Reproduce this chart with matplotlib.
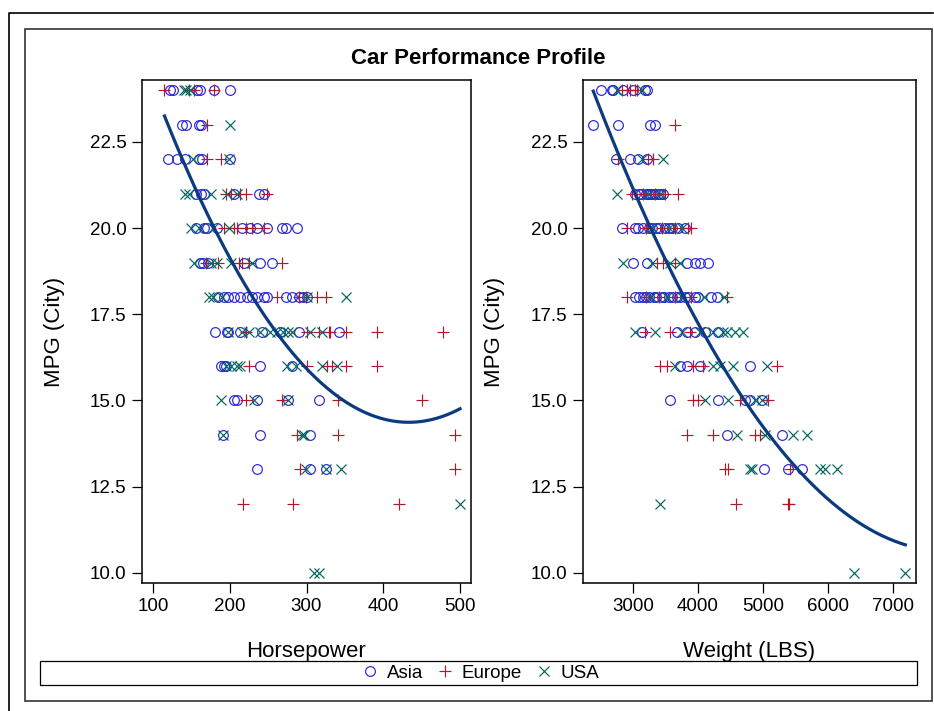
import numpy as np
import matplotlib
matplotlib.use("Agg")
import matplotlib.pyplot as plt
from matplotlib.lines import Line2D
from matplotlib.patches import Rectangle

plt.rcParams['font.family'] = ['Liberation Sans', 'DejaVu Sans']

# ---- data: city MPG rows -> horsepower / weight values per origin ----
ASIA_HP = {
    24: [122, 126, 157, 161, 180, 200],
    23: [138, 143, 160, 163],
    22: [120, 131, 142, 160, 164, 200],
    21: [156, 162, 167, 206, 238, 245],
    20: [156, 167, 171, 184, 216, 226, 236, 248, 268, 273, 287],
    19: [161, 165, 172, 218, 240, 255],
    18: [185, 193, 198, 206, 214, 223, 229, 236, 245, 249, 273, 281, 290, 296, 301],
    17: [181, 196, 198, 214, 242, 266, 290, 342],
    16: [189, 193, 195, 240, 281],
    15: [206, 210, 236, 276, 316],
    14: [191, 240, 305],
    13: [236, 305, 326],
}
EUROPE_HP = {
    24: [115, 147, 153, 180],
    23: [171],
    22: [171, 189],
    21: [195, 201, 214, 221, 249],
    20: [193, 206, 210, 221, 229, 245],
    19: [169, 185, 212, 216, 225, 268],
    18: [262, 290, 299, 314, 325],
    17: [221, 301, 316, 329, 331, 351, 392, 478],
    16: [225, 301, 327, 333, 351, 392],
    15: [221, 268, 341, 451],
    14: [288, 341, 494],
    13: [292, 494],
    12: [217, 282, 421],
}
USA_HP = {
    24: [140, 143, 148],
    23: [200],
    22: [152, 199],
    21: [142, 147, 175, 197, 209],
    20: [149, 160, 178, 199],
    19: [154, 175, 183, 201, 229],
    18: [173, 178, 190, 301, 351],
    17: [198, 216, 225, 240, 253, 262, 270, 276, 281, 305, 320],
    16: [195, 201, 210, 214, 275, 286, 320, 340],
    15: [188, 232, 276],
    14: [191, 294, 297],
    13: [299, 326, 345],
    12: [500],
    10: [310, 316],
}

ASIA_WT = {
    24: [2503, 2672, 2697, 2851, 3005, 3185, 3210],
    23: [2389, 2765, 3262, 3338],
    22: [2738, 2954, 3082, 3210],
    21: [3031, 3100, 3130, 3200, 3230, 3260, 3300, 3340, 3380, 3420, 3460],
    20: [2826, 3031, 3077, 3150, 3250, 3300, 3350, 3400, 3500, 3550, 3600,
         3700, 3800],
    19: [3005, 3210, 3826, 3954, 4031, 4159],
    18: [3031, 3100, 3150, 3200, 3250, 3320, 3360, 3440, 3480, 3560, 3600,
         3680, 3720, 3800, 3850, 3950, 4000, 4200, 4300],
    17: [3133, 3672, 3826, 3954, 4108, 4313],
    16: [3723, 3826, 4031, 4800],
    15: [3569, 4313, 4723, 4800, 4980],
    14: [4441, 5288],
    13: [5015, 5389, 5595],
}
EUROPE_WT = {
    24: [2826, 2903, 2954, 3031, 3056],
    23: [3646],
    22: [2774, 3236, 3313],
    21: [2980, 3150, 3340, 3500, 3687],
    20: [2903, 3200, 3450, 3650, 3850, 3900],
    19: [3364, 3467, 3646],
    18: [2903, 3200, 3400, 3640, 3900, 4450],
    17: [3185, 3569, 3877],
    16: [3415, 3518, 3928, 4082, 5210],
    15: [3928, 4005, 4646, 5082],
    14: [3826, 4236, 4877, 4954],
    13: [4415, 4466, 5415],
    12: [4585, 5389, 5405],
}
USA_WT = {
    24: [2749, 3133],
    22: [3133, 3467],
    21: [2749, 3230, 3420],
    20: [3300, 3550, 3750],
    19: [2851, 3287, 3569, 3723],
    18: [3280, 3520, 3760, 4100, 4400],
    17: [3031, 3338, 3749, 4031, 4236, 4390, 4441, 4569, 4697],
    16: [3646, 4236, 4338, 4544, 5056],
    15: [4108, 4467, 4877, 4980],
    14: [4605, 5031, 5466, 5682],
    13: [4800, 4826, 5877, 5954, 6134],
    12: [3415],
    10: [6400, 7190],
}

ORIGINS = ["Asia", "Europe", "USA"]
COLORS = {"Asia": "#2A25D9", "Europe": "#B2182B", "USA": "#01665E"}
MARKERS = {"Asia": "o", "Europe": "+", "USA": "x"}
MSIZE = {"Asia": 7, "Europe": 8, "USA": 7}
FIT_COLOR = "#0B3A80"

HP_DATA = {"Asia": ASIA_HP, "Europe": EUROPE_HP, "USA": USA_HP}
WT_DATA = {"Asia": ASIA_WT, "Europe": EUROPE_WT, "USA": USA_WT}

YTICKS = [10.0, 12.5, 15.0, 17.5, 20.0, 22.5]
HP_TICKS = [100, 200, 300, 400, 500]
WT_TICKS = [3000, 4000, 5000, 6000, 7000]


def flatten(rows):
    xs, ys = [], []
    for mpg, vals in rows.items():
        xs.extend(vals)
        ys.extend([mpg] * len(vals))
    return np.array(xs, float), np.array(ys, float)


W, H = 934, 711
fig = plt.figure(figsize=(W / 100, H / 100), dpi=100)


def px_rect(x0, y0, x1, y1):
    return [x0 / W, 1 - y1 / H, (x1 - x0) / W, (y1 - y0) / H]


axL = fig.add_axes(px_rect(142, 80, 471, 583))
axR = fig.add_axes(px_rect(583, 80, 916, 583))


def draw_panel(ax, data, xlabel, xticks, xlim, ylabel_x):
    allx, ally = [], []
    for org in ORIGINS:
        xs, ys = flatten(data[org])
        allx.append(xs)
        ally.append(ys)
        ax.plot(xs, ys, linestyle="none", marker=MARKERS[org],
                markersize=MSIZE[org], markerfacecolor="none",
                markeredgecolor=COLORS[org], markeredgewidth=0.85)
    allx = np.concatenate(allx)
    ally = np.concatenate(ally)
    coef = np.polyfit(allx, ally, 2)
    xx = np.linspace(allx.min(), allx.max(), 200)
    ax.plot(xx, np.polyval(coef, xx), color=FIT_COLOR, lw=2.3, zorder=5)

    ax.set_xlim(*xlim)
    ax.set_ylim(9.71, 24.29)
    ax.set_xticks(xticks)
    ax.set_yticks(YTICKS)
    ax.set_yticklabels([f"{v:.1f}" for v in YTICKS])
    ax.tick_params(direction="out", length=7, width=0.9, labelsize=13.5,
                   pad=4, color="black")
    for s in ax.spines.values():
        s.set_linewidth(1.1)
        s.set_color("black")
    ax.set_xlabel(xlabel, fontsize=16)
    ax.set_ylabel("MPG (City)", fontsize=16)
    ax.xaxis.set_label_coords(0.5, -0.115)
    # label anchor sits at the right edge of the rotated text
    pos = ax.get_position()
    ax.yaxis.set_label_coords((ylabel_x + 10 - pos.x0 * W) / (pos.width * W), 0.5)


draw_panel(axL, HP_DATA, "Horsepower", HP_TICKS, (85.7, 514.3), 55)
draw_panel(axR, WT_DATA, "Weight (LBS)", WT_TICKS, (2231, 7354), 495)

# title
fig.text(478.5 / W, 1 - 58 / H, "Car Performance Profile", ha="center",
         va="center", fontsize=16, fontweight="bold")

# outer and inner frames
fig.add_artist(Line2D([9 / W, 9 / W, 933 / W], [0, 1 - 13 / H, 1 - 13 / H],
                      color="black", lw=1.2, transform=fig.transFigure))
fig.add_artist(Rectangle((25 / W, 1 - 701 / H), (932 - 25) / W, (701 - 29) / H,
                         fill=False, edgecolor="#333333", lw=1.2,
                         transform=fig.transFigure))
# legend frame
fig.add_artist(Rectangle((40 / W, 1 - 685 / H), (917 - 40) / W, (685 - 661) / H,
                         fill=False, edgecolor="black", lw=0.9,
                         transform=fig.transFigure))

handles = [Line2D([], [], linestyle="none", marker=MARKERS[o],
                  markersize=MSIZE[o], markerfacecolor="none",
                  markeredgecolor=COLORS[o], markeredgewidth=0.85)
           for o in ORIGINS]
fig.legend(handles, ORIGINS, loc="center", bbox_to_anchor=(480 / W, 1 - 673 / H),
           ncol=3, frameon=False, fontsize=13.5, handlelength=1.0,
           handletextpad=0.4, columnspacing=0.67, borderpad=0)

fig.savefig("out.png", dpi=100)
